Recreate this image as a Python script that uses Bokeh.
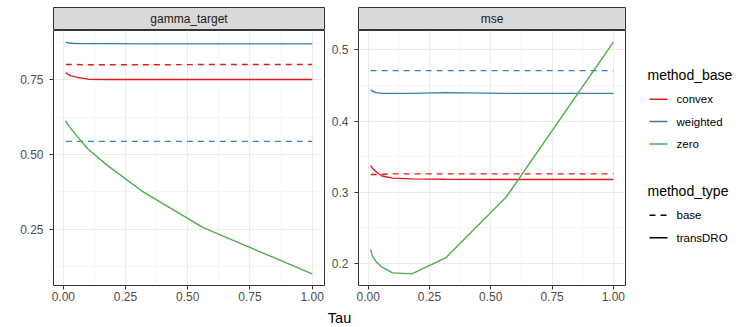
from bokeh.plotting import figure
from bokeh.layouts import row, column
from bokeh.models import Range1d, FixedTicker, PrintfTickFormatter
from bokeh.embed import file_html
from bokeh.resources import INLINE
from bokeh.core.properties import value

FONT = "Liberation Sans"

# ---------------- data ----------------
tau = [0.01, 0.0178, 0.0316, 0.0562, 0.1, 0.178, 0.316, 0.562, 1.0]

methods = ["convex", "weighted", "zero"]
method_colors = ["#E41A1C", "#377EB8", "#4DAF4A"]
types = ["base", "transDRO"]
type_dashes = ["6 5", "solid"]
facets = ["gamma_target", "mse"]

# gamma_target panel
gamma_convex_base = [0.801, 0.801, 0.801, 0.801, 0.800, 0.800, 0.800, 0.801, 0.801]
gamma_convex_transdro = [0.774, 0.769, 0.763, 0.758, 0.752, 0.751, 0.751, 0.751, 0.751]
gamma_weighted_base = [0.544, 0.544, 0.544, 0.544, 0.544, 0.544, 0.544, 0.544, 0.544]
gamma_weighted_transdro = [0.876, 0.874, 0.872, 0.871, 0.871, 0.871, 0.870, 0.870, 0.870]
gamma_zero_transdro = [0.613, 0.600, 0.586, 0.560, 0.518, 0.463, 0.378, 0.256, 0.101]

# mse panel
mse_convex_base = [0.325, 0.325, 0.325, 0.3255, 0.326, 0.326, 0.326, 0.326, 0.326]
mse_convex_transdro = [0.338, 0.334, 0.329, 0.323, 0.320, 0.319, 0.3185, 0.318, 0.318]
mse_weighted_base = [0.471, 0.471, 0.471, 0.471, 0.471, 0.471, 0.471, 0.471, 0.471]
mse_weighted_transdro = [0.444, 0.442, 0.440, 0.439, 0.439, 0.439, 0.440, 0.439, 0.439]
mse_zero_transdro = [0.220, 0.210, 0.203, 0.195, 0.187, 0.1855, 0.208, 0.293, 0.511]

x_ticks = [0.0, 0.25, 0.5, 0.75, 1.0]
x_minor = [0.125, 0.375, 0.625, 0.875]
gamma_ticks = [0.25, 0.5, 0.75]
gamma_minor = [0.125, 0.375, 0.625, 0.875]
mse_ticks = [0.2, 0.3, 0.4, 0.5]
mse_minor = [0.15, 0.25, 0.35, 0.45]

gamma_series = [
    ("convex", "base", gamma_convex_base),
    ("convex", "transDRO", gamma_convex_transdro),
    ("weighted", "base", gamma_weighted_base),
    ("weighted", "transDRO", gamma_weighted_transdro),
    ("zero", "transDRO", gamma_zero_transdro),
]
mse_series = [
    ("convex", "base", mse_convex_base),
    ("convex", "transDRO", mse_convex_transdro),
    ("weighted", "base", mse_weighted_base),
    ("weighted", "transDRO", mse_weighted_transdro),
    ("zero", "transDRO", mse_zero_transdro),
]

GRID = "#ebebeb"
DARK = "#333333"
LW = 1.4


def expand(vals):
    lo, hi = min(vals), max(vals)
    s = hi - lo
    return lo - 0.05 * s, hi + 0.05 * s


def strip(title, width, mbl, mbr):
    s = figure(width=width, height=30, x_range=Range1d(0, 1), y_range=Range1d(0, 1),
               output_backend="svg", toolbar_location=None,
               x_axis_location=None, y_axis_location=None,
               min_border_left=mbl, min_border_right=mbr, min_border_top=7, min_border_bottom=0)
    s.background_fill_color = "#d9d9d9"
    s.border_fill_color = "white"
    s.outline_line_color = DARK
    s.outline_line_width = 1
    s.grid.visible = False
    s.text(x=[0.5], y=[0.5], text=[title], text_align="center", text_baseline="middle",
           text_font=value(FONT), text_font_size="12px", text_color="#1a1a1a")
    return s


def panel(series, yticks, yminor, fmt, width, mbl, mbr):
    allv = [v for _, _, vals in series for v in vals]
    x0, x1 = expand(tau)
    y0, y1 = expand(allv)
    p = figure(width=width, height=275, x_range=Range1d(x0, x1), y_range=Range1d(y0, y1),
               output_backend="svg", toolbar_location=None,
               min_border_left=mbl, min_border_right=mbr, min_border_top=0, min_border_bottom=20)
    p.background_fill_color = "white"
    p.border_fill_color = "white"
    p.outline_line_color = DARK
    p.outline_line_width = 1

    p.xaxis.ticker = FixedTicker(ticks=x_ticks, minor_ticks=x_minor)
    p.yaxis.ticker = FixedTicker(ticks=yticks, minor_ticks=yminor)
    p.xaxis.formatter = PrintfTickFormatter(format="%.2f")
    p.yaxis.formatter = PrintfTickFormatter(format=fmt)
    for ax in (p.xaxis, p.yaxis):
        ax.axis_line_color = None
        ax.major_tick_line_color = DARK
        ax.major_tick_line_width = 1
        ax.major_tick_out = 4
        ax.major_tick_in = 0
        ax.minor_tick_line_color = None
        ax.major_label_text_font = FONT
        ax.major_label_text_font_size = "12px"
        ax.major_label_text_color = "#4d4d4d"
    p.xaxis.major_label_standoff = 2
    p.yaxis.major_label_standoff = 6

    for g in (p.xgrid, p.ygrid):
        g.grid_line_color = GRID
        g.grid_line_width = 1
        g.minor_grid_line_color = GRID
        g.minor_grid_line_width = 0.5

    for m, t, vals in series:
        p.line(tau, vals, line_color=method_colors[methods.index(m)],
               line_dash=type_dashes[types.index(t)], line_width=LW)
    return p


s1 = strip(facets[0], 328, 53, 4)
p1 = panel(gamma_series, gamma_ticks, gamma_minor, "%.2f", 328, 53, 4)
s2 = strip(facets[1], 302, 26, 5)
p2 = panel(mse_series, mse_ticks, mse_minor, "%.1f", 302, 26, 5)

# legend figure (coordinates are page pixels)
leg = figure(width=117, height=305, x_range=Range1d(630, 747), y_range=Range1d(305, 0),
             output_backend="svg", toolbar_location=None,
             x_axis_location=None, y_axis_location=None,
             min_border_left=0, min_border_right=0, min_border_top=0, min_border_bottom=0)
leg.outline_line_color = None
leg.grid.visible = False
leg.text(x=[647], y=[74], text=["method_base"], text_align="left", text_baseline="middle",
         text_font=value(FONT), text_font_size="14px", text_color="black")
ys_m = [98.7, 121, 143.5]
for i, m in enumerate(methods):
    leg.segment(x0=[649], y0=[ys_m[i]], x1=[667], y1=[ys_m[i]], line_color=method_colors[i], line_width=LW)
    leg.text(x=[676], y=[ys_m[i]], text=[m], text_align="left", text_baseline="middle",
             text_font=value(FONT), text_font_size="11.5px", text_color="black")
leg.text(x=[647], y=[190.7], text=["method_type"], text_align="left", text_baseline="middle",
         text_font=value(FONT), text_font_size="14px", text_color="black")
ys_t = [214.7, 237.3]
for i, t in enumerate(types):
    leg.segment(x0=[649], y0=[ys_t[i]], x1=[667], y1=[ys_t[i]], line_color="black",
                line_dash=type_dashes[i], line_width=LW)
    leg.text(x=[676], y=[ys_t[i]], text=[t], text_align="left", text_baseline="middle",
             text_font=value(FONT), text_font_size="11.5px", text_color="black")

# shared x title
tf = figure(width=747, height=22, x_range=Range1d(0, 747), y_range=Range1d(327, 305),
            output_backend="svg", toolbar_location=None,
            x_axis_location=None, y_axis_location=None,
            min_border_left=0, min_border_right=0, min_border_top=0, min_border_bottom=0)
tf.outline_line_color = None
tf.grid.visible = False
tf.text(x=[339], y=[317.7], text=["Tau"], text_align="center", text_baseline="alphabetic",
        text_font=value(FONT), text_font_size="14.5px", text_color="black")

layout = column(row(column(s1, p1), column(s2, p2), leg), tf)

open("out.html", "w").write(file_html(layout, INLINE))
